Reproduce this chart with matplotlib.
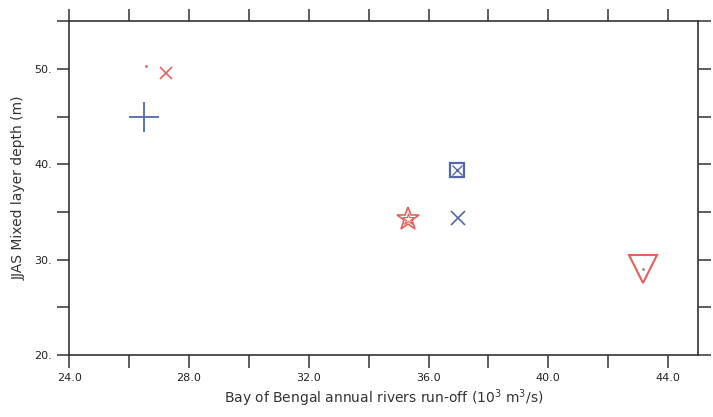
import matplotlib
matplotlib.use("Agg")
import matplotlib.pyplot as plt
from matplotlib.ticker import MultipleLocator, FormatStrFormatter

RED = "#e5605c"
BLUE = "#5566ab"

# runoff (10^3 m3/s) vs JJAS mixed layer depth (m)
red_dot = (26.55, 50.3)
red_cross = (27.25, 49.6)
blue_plus = (26.5, 45.0)
blue_boxx = (36.95, 39.4)
blue_cross = (37.0, 34.4)
red_star = (35.3, 34.3)
red_tri = (43.17, 29.0)

fig = plt.figure(figsize=(7.13, 4.17), dpi=100)
ax = fig.add_axes([0.097, 0.149, 0.882, 0.80])

ax.plot(*red_dot, marker=".", ms=2, color=RED)
ax.plot(*red_cross, marker="x", ms=9, mew=1.2, color=RED)
ax.plot(*blue_plus, marker="+", ms=22, mew=1.3, color=BLUE)
ax.plot(*blue_boxx, marker="s", ms=10, mew=1.6, mfc="none", color=BLUE)
ax.plot(*blue_boxx, marker="x", ms=7, mew=1.0, color=BLUE)
ax.plot(*blue_cross, marker="x", ms=10, mew=1.2, color=BLUE)
ax.plot(*red_star, marker="*", ms=17, mew=1.2, mfc="none", color=RED)
ax.plot(*red_star, marker="*", ms=9, mew=0.8, mfc="none", color=RED)
ax.plot(*red_tri, marker="v", ms=20, mew=1.5, mfc="none", color=RED)
ax.plot(*red_tri, marker=".", ms=2, color="#888888")

ax.set_xlim(24, 45)
ax.set_ylim(20, 55)
ax.xaxis.set_major_locator(MultipleLocator(4))
ax.xaxis.set_minor_locator(MultipleLocator(2))
ax.yaxis.set_major_locator(MultipleLocator(10))
ax.yaxis.set_minor_locator(MultipleLocator(5))
ax.xaxis.set_major_formatter(FormatStrFormatter("%.1f"))
ax.yaxis.set_major_formatter(FormatStrFormatter("%d."))

for s in ax.spines.values():
    s.set_linewidth(1.2)
    s.set_color("#333333")
ax.tick_params(which="both", direction="out", length=9, width=1.1,
               top=True, right=True, colors="#333333", labelsize=8)
ax.tick_params(axis="x", pad=4)
ax.tick_params(labelcolor="#222222")

ax.set_xlabel(r"Bay of Bengal annual rivers run-off (10$^3$ m$^3$/s)",
              fontsize=10, color="#333333", labelpad=3)
ax.set_ylabel("JJAS Mixed layer depth (m)", fontsize=10, color="#333333",
              labelpad=6)

fig.savefig("out.png", dpi=100)
